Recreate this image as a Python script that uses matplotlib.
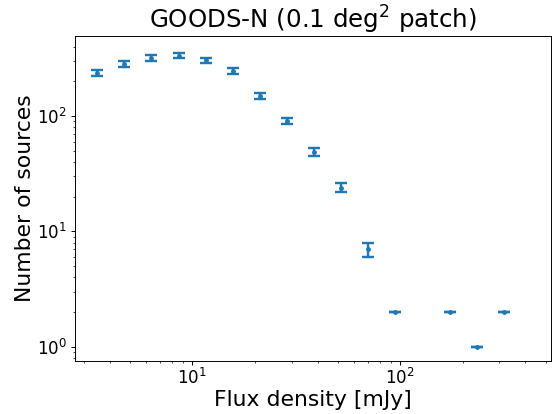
import matplotlib
matplotlib.use("Agg")
import matplotlib.pyplot as plt

# binned source counts, log-spaced flux bins
flux = [3.49, 4.71, 6.36, 8.59, 11.6, 15.65, 21.1, 28.5, 38.5, 52.0, 70.2, 94.8, 172.8, 233.0, 315.0]
counts = [238, 285, 321, 335, 306, 247, 150, 91, 49, 24, 7, 2, 2, 1, 2]
errors = [15, 16, 20, 18, 16, 13, 8, 5, 4, 2.2, 1, 0, 0, 0, 0]

fig = plt.figure(figsize=(6.4, 4.8), dpi=86.25)
ax = fig.add_axes([0.136, 0.128, 0.862, 0.785])

ax.errorbar(flux, counts, yerr=errors, fmt="o", markersize=3,
            elinewidth=2, capsize=5, capthick=2, color="C0")

ax.set_xscale("log")
ax.set_yscale("log")
ax.set_xlim(2.73, 530)
ax.set_ylim(0.75, 495)

ax.set_title("GOODS-N (0.1 deg$^2$ patch)", fontsize=20.5)
ax.set_xlabel("Flux density [mJy]", fontsize=18.3, labelpad=2)
ax.set_ylabel("Number of sources", fontsize=18.3, labelpad=2)
ax.tick_params(which="major", labelsize=14, length=3.5, pad=2)
ax.tick_params(axis="y", which="major", pad=3)
ax.tick_params(which="minor", length=2)

fig.savefig("out.png", dpi=86.25)
